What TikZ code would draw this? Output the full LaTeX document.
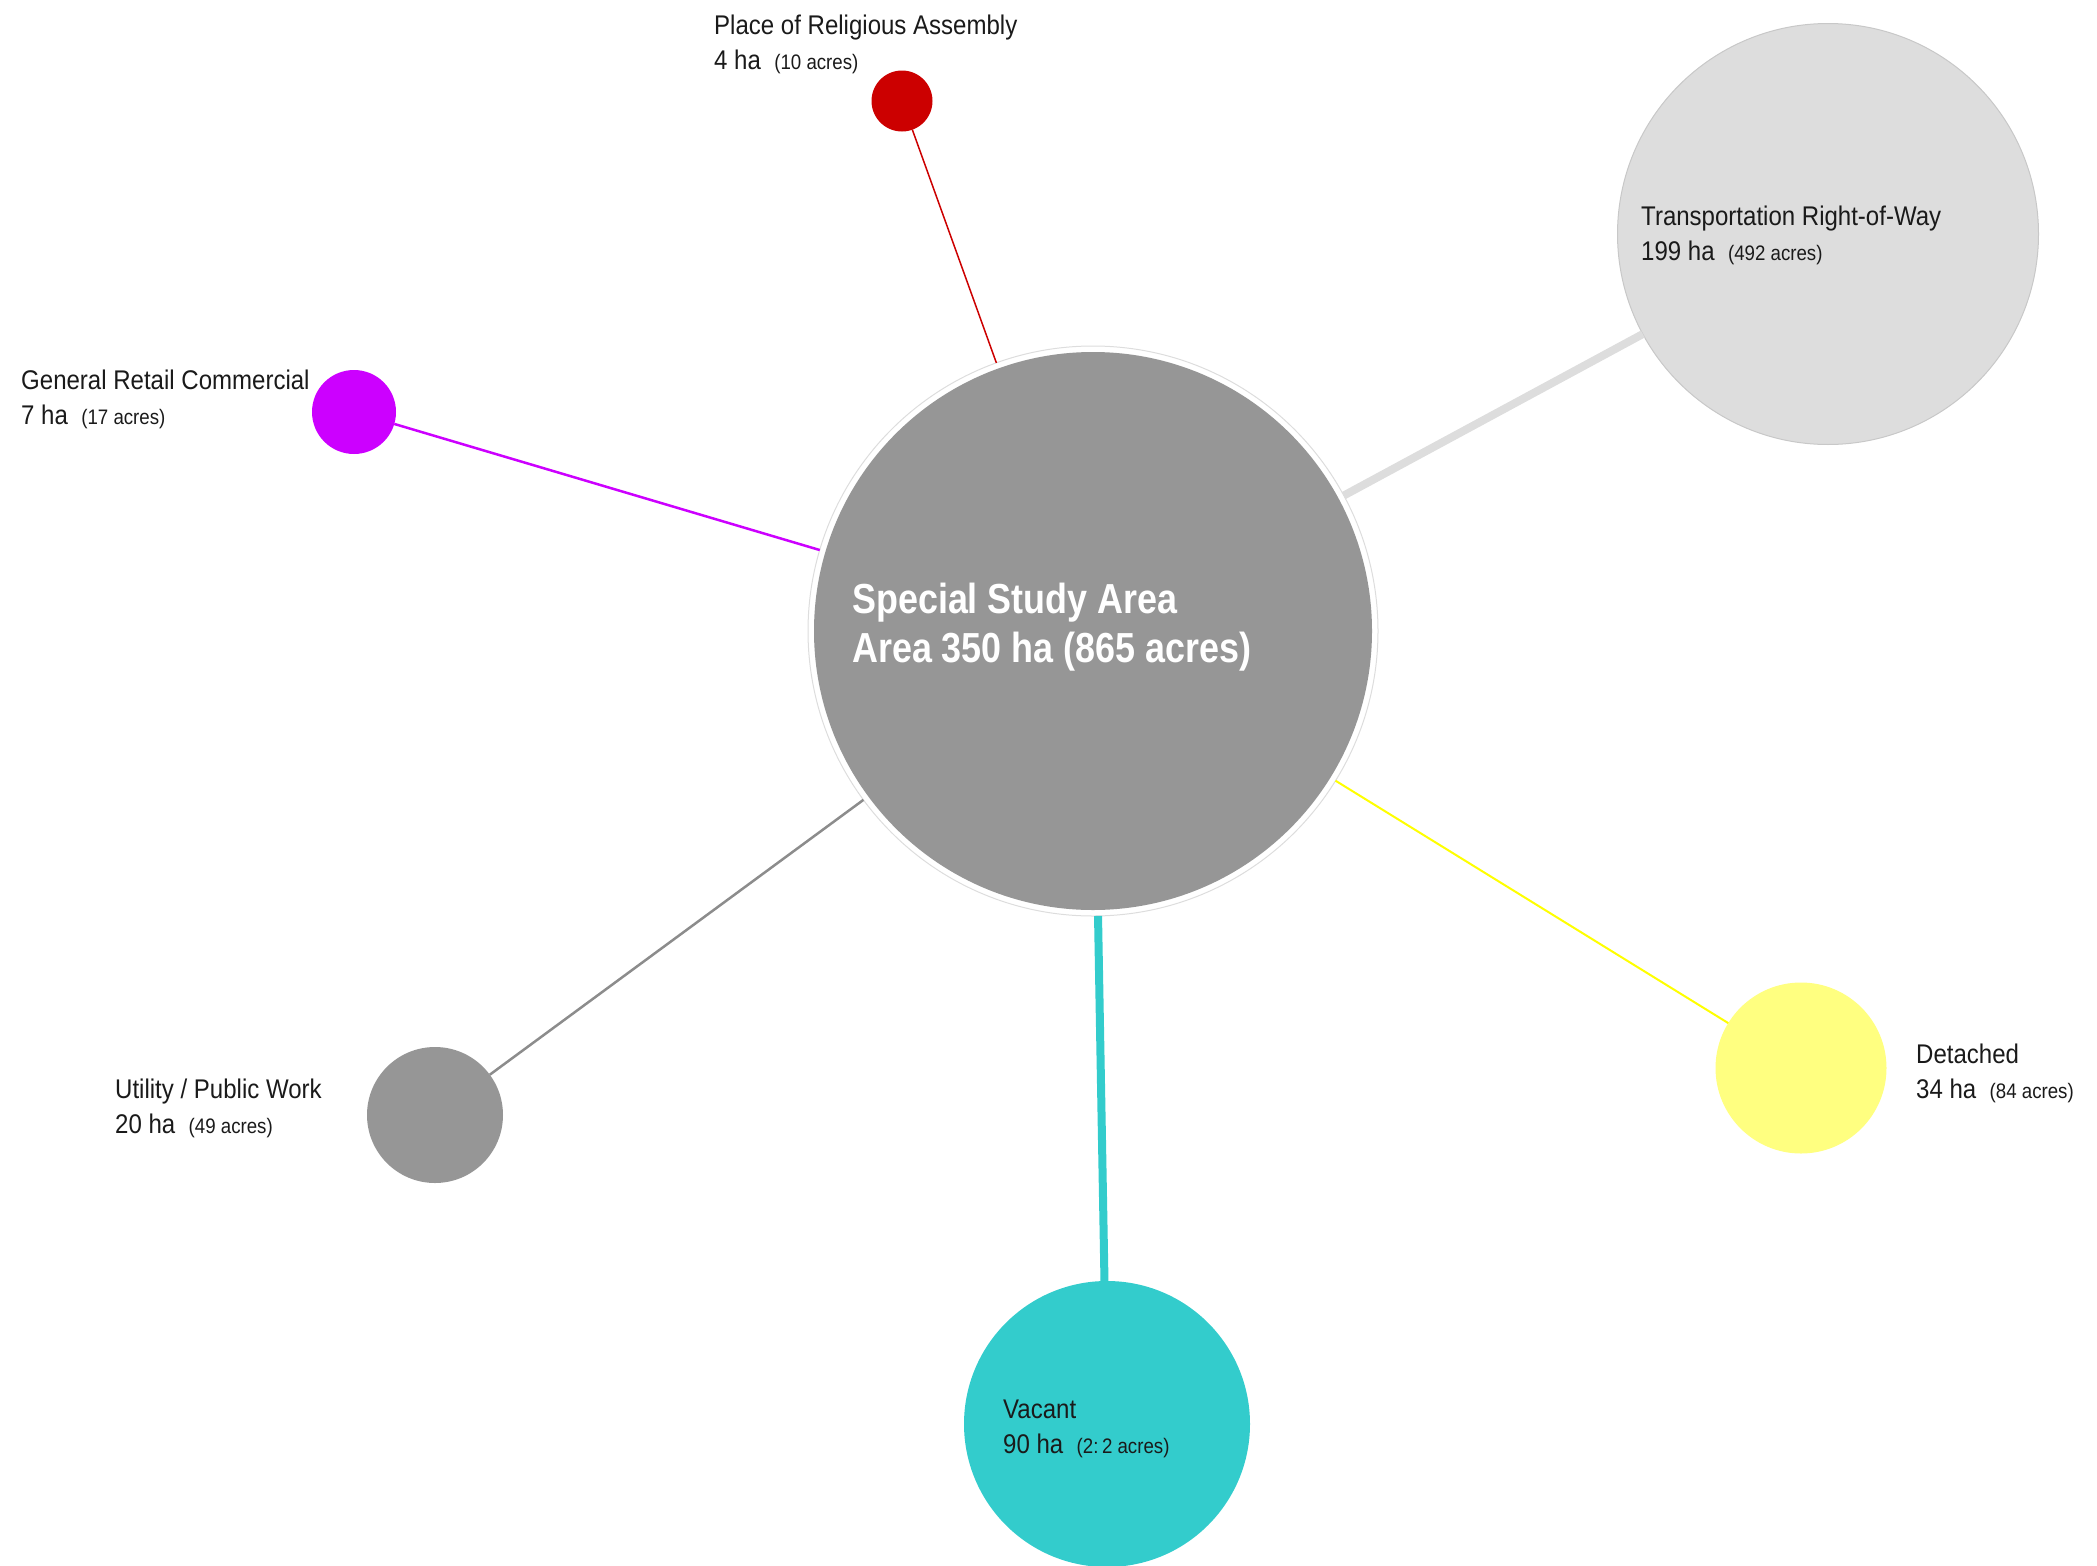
\documentclass[tikz,border=0pt]{standalone}
\usepackage{fontspec}
\newfontfamily\lblfont[FakeStretch=0.89]{Liberation Sans}
\newfontfamily\ssafont[FakeStretch=0.855]{Liberation Sans}
\definecolor{ringgray}{HTML}{DDDDDD}
\definecolor{maingray}{HTML}{969696}
\definecolor{relred}{HTML}{CC0000}
\definecolor{retmag}{HTML}{CC00FF}
\definecolor{trgray}{HTML}{DDDDDD}
\definecolor{trborder}{HTML}{C8C8C8}
\definecolor{detfill}{HTML}{FFFF80}
\definecolor{detline}{HTML}{FFFF00}
\definecolor{vacteal}{HTML}{33CCCC}
\definecolor{utilgray}{HTML}{969696}
\definecolor{utilline}{HTML}{8C8C8C}
\definecolor{txt}{HTML}{1A1A1A}
\tikzset{
  blob/.style={circle, inner sep=0pt, outer sep=0pt, draw=none},
  lbl/.style={anchor=base west, inner sep=0pt, align=left, text=txt,
    font=\lblfont\fontsize{27}{35}\selectfont},
  maintxt/.style={anchor=base west, inner sep=0pt, text=white,
    font=\ssafont\bfseries\fontsize{42}{49}\selectfont},
}
\newcommand{\acr}[1]{{\fontsize{21}{35}\selectfont #1}}
\begin{document}
\begin{tikzpicture}[x=1pt,y=-1pt]
\useasboundingbox (0,0) rectangle (2097,1566);
% main circle
\node[circle, draw=ringgray, line width=1pt, fill=white, minimum size=570pt, inner sep=0pt, outer sep=0pt] (main) at (1093,631) {};
\fill[maingray] (main.center) circle (279pt);
% satellites
\node[blob, fill=relred, minimum size=61pt] (rel) at (902,101) {};
\node[blob, fill=retmag, minimum size=84pt] (ret) at (354,412) {};
\node[blob, fill=trgray, draw=trborder, line width=1pt, minimum size=421pt] (tr) at (1828,234) {};
\node[blob, fill=detfill, minimum size=171pt] (det) at (1801,1068) {};
\node[blob, fill=vacteal, minimum size=286pt] (vac) at (1107,1424) {};
\node[blob, fill=utilgray, minimum size=136pt] (util) at (435,1115) {};
% connectors
\draw[relred, line width=1.5pt] (rel) -- (main);
\draw[retmag, line width=2.5pt] (ret) -- (main);
\draw[trgray, line width=8pt] (tr) -- (main);
\draw[detline, line width=2pt] (det) -- (main);
\draw[vacteal, line width=8pt] (vac) -- (main);
\draw[utilline, line width=2.5pt] (util) -- (main);
% labels (anchor = baseline of the last line)
\node[lbl] (lrel) at (714,69) {Place of Religious Assembly\\4 ha\ \ \acr{(10 acres)}};
\node[lbl] (lret) at (21,424) {General Retail Commercial\\7 ha\ \ \acr{(17 acres)}};
\node[lbl] (ltr) at (1641,260) {Transportation Right-of-Way\\199 ha\ \ \acr{(492 acres)}};
\node[lbl] (ldet) at (1916,1098) {Detached\\34 ha\ \ \acr{(84 acres)}};
\node[lbl] (lvac) at (1003,1453) {Vacant\\90 ha\ \ \acr{(2:\,2 acres)}};
\node[lbl] (lutil) at (115,1133) {Utility / Public Work\\20 ha\ \ \acr{(49 acres)}};
\node[maintxt] (lmain1) at (852,613) {Special Study Area};
\node[maintxt] (lmain2) at (852,662) {Area 350 ha (865 acres)};
\end{tikzpicture}
\end{document}
